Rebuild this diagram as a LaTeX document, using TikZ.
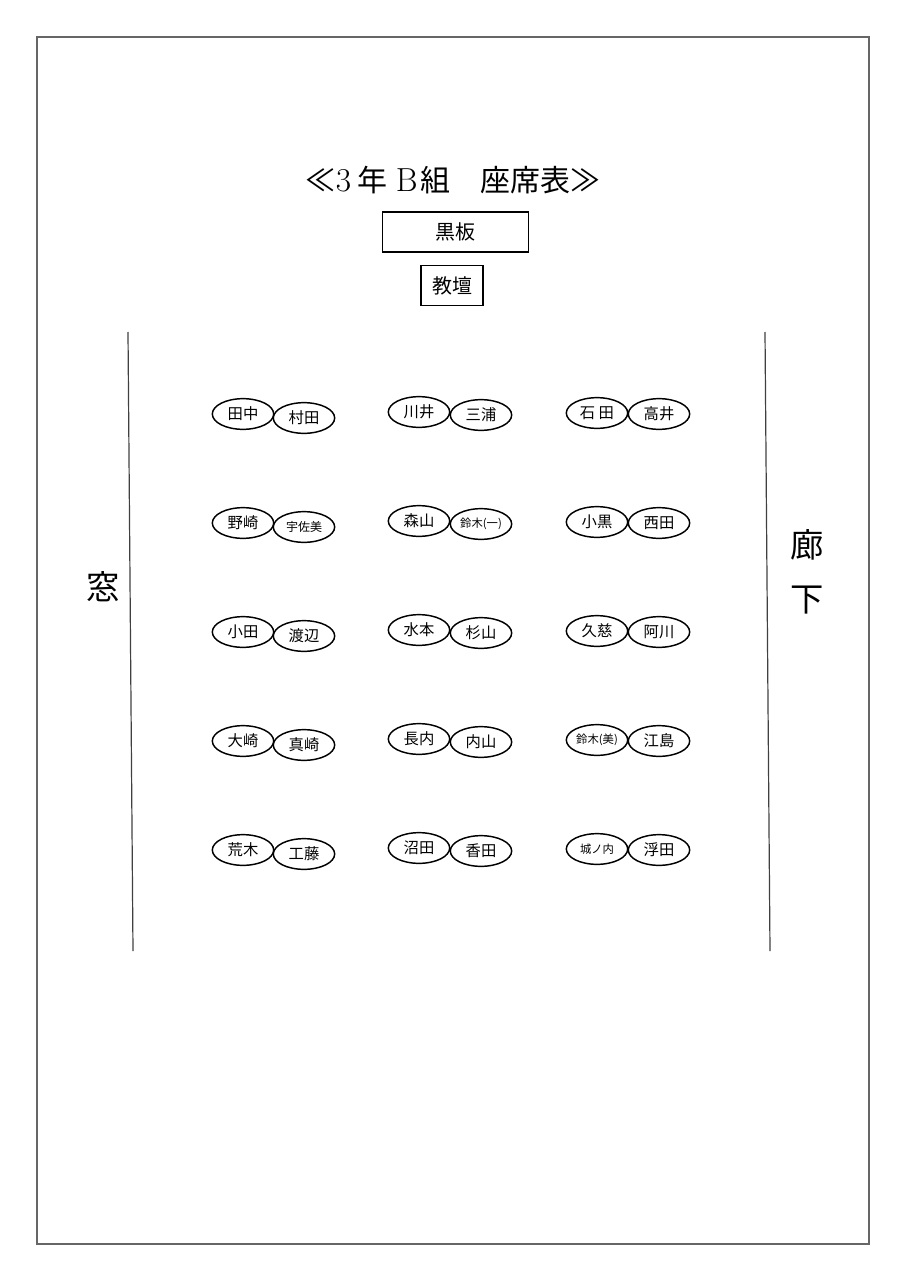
\documentclass[tikz,border=0pt]{standalone}
\usepackage{fontspec}
\newfontfamily\jp{Noto Sans CJK JP}
\usetikzlibrary{shapes.geometric}
\tikzset{
  seat/.style={ellipse,draw,line width=1.1pt,minimum width=46pt,minimum height=23pt,inner sep=0pt,font=\jp\fontsize{11.5}{13}\selectfont},
  boxnode/.style={draw,line width=0.9pt,inner sep=0pt},
  wall/.style={draw=black!75,line width=0.9pt}
}
\begin{document}
\begin{tikzpicture}[x=0.75pt,y=-0.75pt]
\useasboundingbox (0,0) rectangle (906,1280);
\draw[draw=black!60,line width=1pt] (37,37) rectangle (869,1244);
\node[font=\jp\fontsize{22.5}{24}\selectfont] (title) at (453,180) {≪{\rmfamily\fontsize{25}{26}\selectfont 3}\hspace{5pt}年\hspace{6pt}{\rmfamily\fontsize{25}{26}\selectfont B}\hspace{2pt}組　座席表≫};
\node[boxnode,minimum width=109pt,minimum height=30pt,font=\jp\fontsize{15}{16}\selectfont] (board) at (455.5,232) {黒板};
\node[boxnode,minimum width=46.5pt,minimum height=30.5pt,font=\jp\fontsize{15}{16}\selectfont] (podium) at (452,285.5) {教壇};
\coordinate (wl1) at (128,332); \coordinate (wl2) at (133,951);
\coordinate (wr1) at (765,332); \coordinate (wr2) at (770,951);
\draw[wall] (wl1) -- (wl2);
\draw[wall] (wr1) -- (wr2);
\node[font=\jp\fontsize{25}{27}\selectfont] (window) at (103,587) {窓};
\node[font=\jp\fontsize{25}{27}\selectfont] (hall1) at (807,545) {廊};
\node[font=\jp\fontsize{25}{27}\selectfont] (hall2) at (807,600) {下};
% row 1
\node[seat] (a1) at (243,414) {田中};
\node[seat] (b1) at (304,418) {村田};
\node[seat] (c1) at (419,412) {川井};
\node[seat] (d1) at (481,415) {三浦};
\node[seat] (e1) at (597,413) {石 田};
\node[seat] (f1) at (659,414) {高井};
% row 2
\node[seat] (a2) at (243,523) {野崎};
\node[seat] (b2) at (304,527) {\fontsize{9}{10}\selectfont 宇佐美};
\node[seat] (c2) at (419,521) {森山};
\node[seat] (d2) at (481,524) {\fontsize{8.5}{9}\selectfont 鈴木(一)};
\node[seat] (e2) at (597,522) {小黒};
\node[seat] (f2) at (659,523) {西田};
% row 3
\node[seat] (a3) at (243,632) {小田};
\node[seat] (b3) at (304,636) {渡辺};
\node[seat] (c3) at (419,630) {水本};
\node[seat] (d3) at (481,633) {杉山};
\node[seat] (e3) at (597,631) {久慈};
\node[seat] (f3) at (659,632) {阿川};
% row 4
\node[seat] (a4) at (243,741) {大崎};
\node[seat] (b4) at (304,745) {真崎};
\node[seat] (c4) at (419,739) {長内};
\node[seat] (d4) at (481,742) {内山};
\node[seat] (e4) at (597,740) {\fontsize{8.5}{9}\selectfont 鈴木(美)};
\node[seat] (f4) at (659,741) {江島};
% row 5
\node[seat] (a5) at (243,850) {荒木};
\node[seat] (b5) at (304,854) {工藤};
\node[seat] (c5) at (419,848) {沼田};
\node[seat] (d5) at (481,851) {香田};
\node[seat] (e5) at (597,849) {\fontsize{8.5}{9}\selectfont 城ノ内};
\node[seat] (f5) at (659,850) {浮田};
\end{tikzpicture}
\end{document}
